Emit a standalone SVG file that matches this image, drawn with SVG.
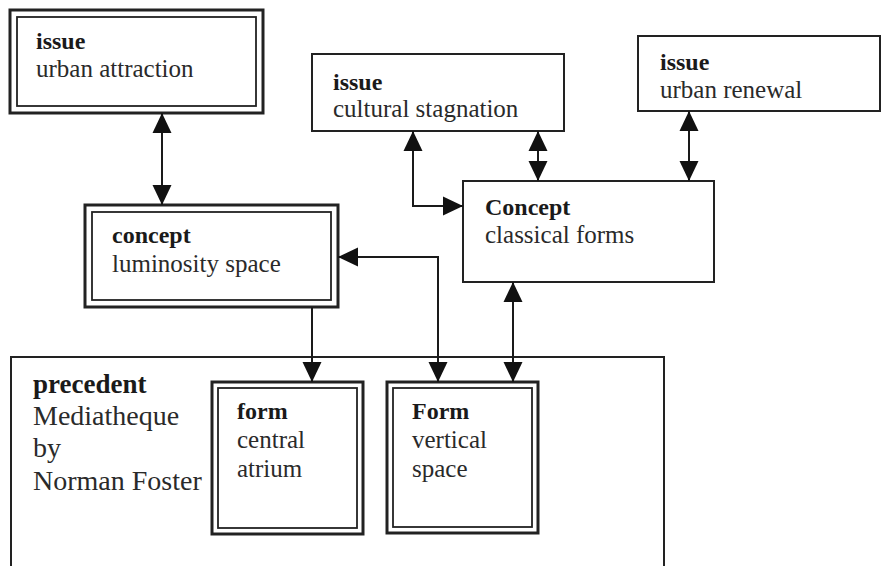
<svg xmlns="http://www.w3.org/2000/svg" width="882" height="566" viewBox="0 0 882 566">
  <style>
    .box { fill: #fff; stroke: #222; stroke-width: 2; }
    .outer { fill: #fff; stroke: #222; stroke-width: 3; }
    .inner { fill: none; stroke: #222; stroke-width: 1.8; }
    .head { font-family: "Liberation Serif", "Times New Roman", serif; font-weight: bold; font-size: 24px; fill: #1a1a1a; }
    .body { font-family: "Liberation Serif", "Times New Roman", serif; font-size: 25px; fill: #2a2a2a; }
    .big-head { font-family: "Liberation Serif", "Times New Roman", serif; font-weight: bold; font-size: 27px; fill: #1a1a1a; }
    .big-body { font-family: "Liberation Serif", "Times New Roman", serif; font-size: 28px; fill: #2a2a2a; }
    .link { fill: none; stroke: #1a1a1a; stroke-width: 2; marker-end: url(#tip); }
    .both { marker-start: url(#tip); }
  </style>
  <defs>
    <marker id="tip" markerUnits="userSpaceOnUse" markerWidth="20" markerHeight="20" refX="20" refY="10" orient="auto-start-reverse">
      <path d="M0,0.5 L20,10 L0,19.5 z" fill="#111"/>
    </marker>
  </defs>
  <rect width="882" height="566" fill="#fff"/>

  <!-- precedent container -->
  <g id="precedent">
    <rect class="box" x="11" y="357" width="653" height="220"/>
    <text class="big-head" x="33" y="393">precedent</text>
    <text class="big-body" x="33" y="425">Mediatheque</text>
    <text class="big-body" x="33" y="457">by</text>
    <text class="big-body" x="33" y="490">Norman Foster</text>
  </g>

  <g id="issue-urban-attraction">
    <rect class="outer" x="10" y="10" width="253" height="103"/>
    <rect class="inner" x="17" y="17" width="239" height="89"/>
    <text class="head" x="36" y="49">issue</text>
    <text class="body" x="36" y="77">urban attraction</text>
  </g>

  <g id="issue-cultural-stagnation">
    <rect class="box" x="312" y="54" width="252" height="77"/>
    <text class="head" x="333" y="90">issue</text>
    <text class="body" x="333" y="117">cultural stagnation</text>
  </g>

  <g id="issue-urban-renewal">
    <rect class="box" x="638" y="36" width="242" height="75"/>
    <text class="head" x="660" y="70">issue</text>
    <text class="body" x="660" y="98">urban renewal</text>
  </g>

  <g id="concept-classical-forms">
    <rect class="box" x="463" y="181" width="251" height="101"/>
    <text class="head" x="485" y="215">Concept</text>
    <text class="body" x="485" y="243">classical forms</text>
  </g>

  <g id="concept-luminosity-space">
    <rect class="outer" x="85" y="205" width="253" height="102"/>
    <rect class="inner" x="92" y="212" width="239" height="88"/>
    <text class="head" x="112" y="243">concept</text>
    <text class="body" x="112" y="272">luminosity space</text>
  </g>

  <g id="form-central-atrium">
    <rect class="outer" x="212" y="382" width="151" height="152"/>
    <rect class="inner" x="218" y="388" width="139" height="140"/>
    <text class="head" x="237" y="419">form</text>
    <text class="body" x="237" y="448">central</text>
    <text class="body" x="237" y="477">atrium</text>
  </g>

  <g id="form-vertical-space">
    <rect class="outer" x="387" y="382" width="151" height="151"/>
    <rect class="inner" x="393" y="388" width="139" height="139"/>
    <text class="head" x="412" y="419">Form</text>
    <text class="body" x="412" y="448">vertical</text>
    <text class="body" x="412" y="477">space</text>
  </g>

  <!-- connectors -->
  <g id="connectors">
    <path class="link both" d="M162,113 V205"/>
    <path class="link both" d="M413,131 V206 H463"/>
    <path class="link both" d="M538,131 V181"/>
    <path class="link both" d="M689,111 V181"/>
    <path class="link both" d="M513,282 V382"/>
    <path class="link both" d="M338,257 H438 V382"/>
    <path class="link" d="M312,307 V382"/>
  </g>
</svg>
